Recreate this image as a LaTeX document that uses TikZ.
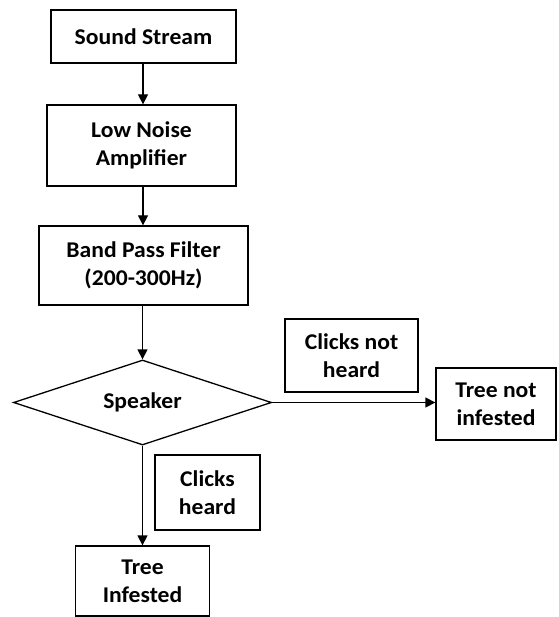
\documentclass[tikz,border=0pt]{standalone}
\usepackage{fontspec}
\setmainfont{Carlito}[FakeStretch=1.05]
\usetikzlibrary{shapes.geometric,arrows.meta}
\begin{document}
\begin{tikzpicture}[x=1pt,y=-1pt,
  box/.style={draw=black,line width=1.3pt,inner sep=0pt,align=center,
    font=\fontsize{22.5}{28}\selectfont\bfseries},
  conn/.style={draw=black,line width=1.3pt,-{Triangle[length=10pt,width=10pt]}}]
\useasboundingbox (0,0) rectangle (558,617);
\node[box,minimum width=185pt,minimum height=53pt] (ss) at (143.5,36.5) {Sound Stream};
\node[box,minimum width=189pt,minimum height=81pt] (lna) at (141.5,145.5) {Low Noise\\Amplifier};
\node[box,minimum width=209pt,minimum height=79pt] (bpf) at (143.5,265.5) {Band Pass Filter\\(200-300Hz)};
\node[box,shape=diamond,aspect=3.03,minimum width=258pt,minimum height=85pt] (dia) at (142.5,402.5) {Speaker};
\node[box,minimum width=133pt,minimum height=73pt] (cnh) at (351.5,355.5) {Clicks not\\heard};
\node[box,minimum width=120pt,minimum height=72pt] (tni) at (496,404) {Tree not\\infested};
\node[box,minimum width=105pt,minimum height=75pt] (ch) at (207.5,492.5) {Clicks\\heard};
\node[box,minimum width=134pt,minimum height=70pt] (ti) at (142.5,581) {Tree\\Infested};
\draw[conn] (ss.south -| 143,0) -- (lna.north -| 143,0);
\draw[conn] (lna.south -| 143,0) -- (bpf.north -| 143,0);
\draw[conn] (bpf.south -| dia.north) -- (dia.north);
\draw[conn] (dia.east) -- (tni.west |- dia.east);
\draw[conn] (dia.south) -- (ti.north);
\end{tikzpicture}
\end{document}
